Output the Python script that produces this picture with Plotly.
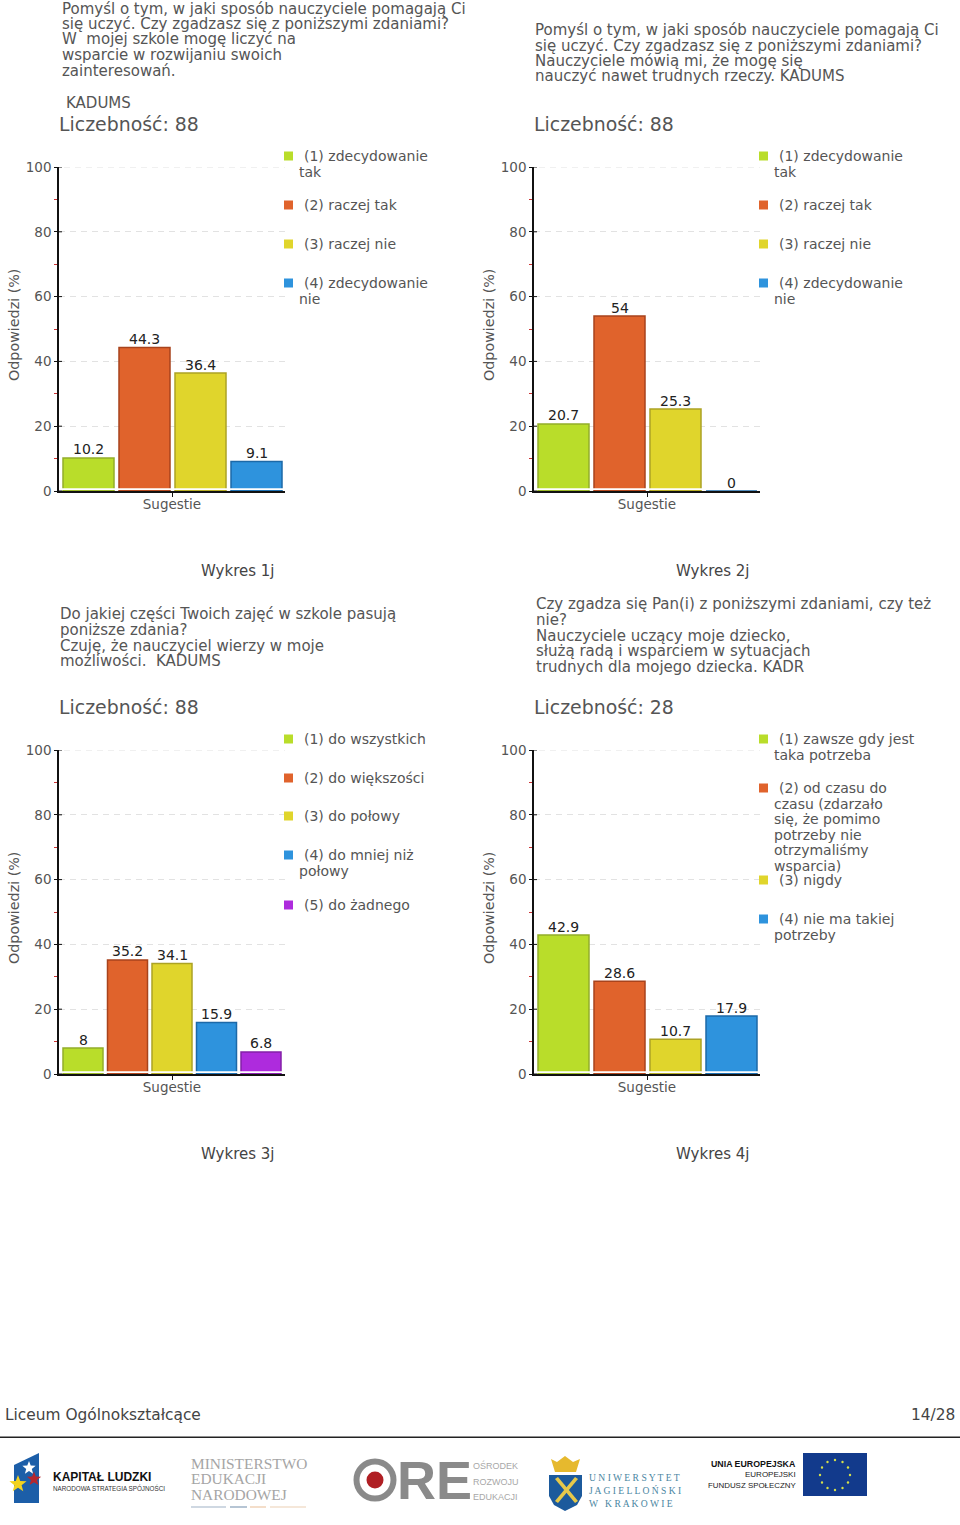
import math
import plotly.graph_objects as go

FONT = "DejaVu Sans"
W, H = 960, 1525
TXT = "#555555"

values_1 = [10.2, 44.3, 36.4, 9.1]
values_2 = [20.7, 54, 25.3, 0]
values_3 = [8, 35.2, 34.1, 15.9, 6.8]
values_4 = [42.9, 28.6, 10.7, 17.9]
labels_1 = ["10.2", "44.3", "36.4", "9.1"]
labels_2 = ["20.7", "54", "25.3", "0"]
labels_3 = ["8", "35.2", "34.1", "15.9", "6.8"]
labels_4 = ["42.9", "28.6", "10.7", "17.9"]
counts = ["Liczebność: 88", "Liczebność: 88", "Liczebność: 88", "Liczebność: 28"]
captions = ["Wykres 1j", "Wykres 2j", "Wykres 3j", "Wykres 4j"]
fills = ["#b9dd2a", "#e0632c", "#e0d52c", "#2e93dd", "#ae2bdd"]
edges = ["#92ad2a", "#a8431c", "#aca224", "#1c69a8", "#8420a8"]
title_1 = ["Pomyśl o tym, w jaki sposób nauczyciele pomagają Ci",
           "się uczyć. Czy zgadzasz się z poniższymi zdaniami?",
           "W  mojej szkole mogę liczyć na",
           "wsparcie w rozwijaniu swoich",
           "zainteresowań."]
title_2 = ["Pomyśl o tym, w jaki sposób nauczyciele pomagają Ci",
           "się uczyć. Czy zgadzasz się z poniższymi zdaniami?",
           "Nauczyciele mówią mi, że mogę się",
           "nauczyć nawet trudnych rzeczy. KADUMS"]
title_3 = ["Do jakiej części Twoich zajęć w szkole pasują",
           "poniższe zdania?",
           "Czuję, że nauczyciel wierzy w moje",
           "możliwości.  KADUMS"]
title_4 = ["Czy zgadza się Pan(i) z poniższymi zdaniami, czy też",
           "nie?",
           "Nauczyciele uczący moje dziecko,",
           "służą radą i wsparciem w sytuacjach",
           "trudnych dla mojego dziecka. KADR"]
legend_1 = [["(1) zdecydowanie", "tak"], ["(2) raczej tak"], ["(3) raczej nie"], ["(4) zdecydowanie", "nie"]]
legend_3 = [["(1) do wszystkich"], ["(2) do większości"], ["(3) do połowy"], ["(4) do mniej niż", "połowy"], ["(5) do żadnego"]]
legend_4 = [["(1) zawsze gdy jest", "taka potrzeba"],
            ["(2) od czasu do", "czasu (zdarzało", "się, że pomimo", "potrzeby nie", "otrzymaliśmy", "wsparcia)"],
            ["(3) nigdy"], ["(4) nie ma takiej", "potrzeby"]]
y_major = [0, 20, 40, 60, 80, 100]
y_minor = [10, 30, 50, 70, 90]

fig = go.Figure()
ann, shp = [], []


def px(x):
    return x / W


def py(y):
    return 1 - y / H


def text(x, y, s, size=14, color=TXT, anchor="left", family=FONT, angle=0):
    ann.append(dict(x=px(x), y=py(y), xref="paper", yref="paper", text=s, showarrow=False,
                    xanchor=anchor, yanchor="middle", textangle=angle, borderpad=0, borderwidth=0,
                    font=dict(family=family, size=size, color=color)))


def rect(x0, y0, x1, y1, color):
    shp.append(dict(type="rect", xref="paper", yref="paper", x0=px(x0), x1=px(x1), y0=py(y0), y1=py(y1),
                    fillcolor=color, line=dict(width=0)))


def poly(points, color):
    d = "M" + " L".join(f"{px(a):.5f},{py(b):.5f}" for a, b in points) + " Z"
    shp.append(dict(type="path", xref="paper", yref="paper", path=d, fillcolor=color, line=dict(width=0)))


def star(cx, cy, r, color):
    pts = []
    for k in range(10):
        a = math.radians(-90 + k * 36)
        rr = r if k % 2 == 0 else r * 0.42
        pts.append((cx + rr * math.cos(a), cy + rr * math.sin(a)))
    poly(pts, color)


def circle(cx, cy, r, color, lw=0, lc=None):
    shp.append(dict(type="circle", xref="paper", yref="paper", x0=px(cx - r), x1=px(cx + r), y0=py(cy + r), y1=py(cy - r),
                    fillcolor=color, line=dict(width=lw, color=lc or color)))


def chart(i, x0, top, vals, labs, title, title_x, title_ys, legend, legend_ys):
    n = len(vals)
    ax = "" if i == 0 else str(i + 1)
    left = x0 + 59
    right = x0 + 285
    bottom = top + 324
    pitch = 56 if n == 4 else 44.5
    c0 = 88.5 if n == 4 else 83
    width = 51 if n == 4 else 40
    rng = [(59 - c0) / pitch, (285 - c0) / pitch]
    fig.add_trace(go.Bar(
        x=list(range(n)), y=vals, cliponaxis=False,
        width=width / pitch, showlegend=False,
        marker=dict(color=fills[:n], line=dict(color=edges[:n], width=1.5)),
        xaxis="x" + ax, yaxis="y" + ax, hoverinfo="skip"))
    fig.update_layout({
        "xaxis" + ax: dict(domain=[px(left), px(right)], range=rng, anchor="y" + ax,
                           tickvals=[(172 - c0) / pitch], ticktext=[""], ticks="outside", ticklen=4,
                           tickcolor="#111111", showgrid=False, zeroline=False, showline=True,
                           linecolor="#111111", linewidth=1.5,
                           title=dict(text="Sugestie", standoff=1, font=dict(family=FONT, size=13.5, color=TXT))),
        "yaxis" + ax: dict(domain=[py(bottom), py(top)], range=[0, 100], anchor="x" + ax,
                           tickvals=y_major, ticks="outside", ticklen=3, tickcolor="#111111",
                           tickfont=dict(family=FONT, size=13.5, color=TXT),
                           showline=True, linecolor="#111111", linewidth=1.5, zeroline=False,
                           gridcolor="#e2e2e2", griddash="6px,5px", gridwidth=1,
                           minor=dict(tickvals=y_minor, ticks="outside", ticklen=3, tickcolor="#cc3333", showgrid=False)),
    })
    # bar value labels, placed from the data through the axes
    for k, (v, s) in enumerate(zip(vals, labs)):
        ann.append(dict(x=k, y=v, xref="x" + ax, yref="y" + ax, text=s, showarrow=False, xanchor="center",
                        yanchor="middle", yshift=8.5, borderpad=0, borderwidth=0,
                        font=dict(family=FONT, size=14, color="#222222")))
    # small gap between bar feet and the axis line
    rect(left + 1, bottom - 2.8, right, bottom - 1, "#ffffff")
    for v in y_major:
        shp.append(dict(type="line", xref="paper", yref="y" + ax, x0=px(left), x1=px(left + 3), y0=v, y1=v,
                        line=dict(color="#111111", width=1)))
    shp.append(dict(type="line", xref="paper", yref="y" + ax, x0=px(left + 5), x1=px(right), y0=100, y1=100,
                    line=dict(color="#e2e2e2", width=1, dash="6px,5px")))
    for s, y in zip(title, title_ys):
        text(title_x, y, s, size=15)
    text(left, top - 43, counts[i], size=18.9)
    text(x0 + 14, top + 158, "Odpowiedzi (%)", size=14.3, angle=-90, anchor="center")
    text(x0 + 238, top + 403.5, captions[i], size=15, anchor="center", color="#444444")
    for j, (lines, ly) in enumerate(zip(legend, legend_ys)):
        rect(x0 + 284, top + ly - 4.5, x0 + 293, top + ly + 4.5, fills[j])
        for k, s in enumerate(lines):
            text(x0 + (304 if k == 0 else 299), top + ly + k * 15.6, s, size=14)


chart(0, 0, 167, values_1, labels_1, title_1, 62, [8.5, 24, 39.5, 55, 70.5], legend_1, [-11, 38, 77, 116])
chart(1, 475, 167, values_2, labels_2, title_2, 535, [30, 45.5, 61, 76.5], legend_1, [-11, 38, 77, 116])
chart(2, 0, 750, values_3, labels_3, title_3, 60, [614, 630, 645.5, 660.5], legend_3, [-11, 28, 66, 105, 155])
chart(3, 475, 750, values_4, labels_4, title_4, 536, [604, 620, 635.5, 651, 666.5], legend_4, [-11, 38, 130, 169])
text(66, 103, "KADUMS", size=15)

# page footer
text(5, 1414.5, "Liceum Ogólnokształcące", size=15.4, color="#444444")
text(955, 1414.5, "14/28", size=15.4, color="#444444", anchor="right")
rect(0, 1436.5, 960, 1438, "#222222")

# Kapitał Ludzki logo
poly([(14, 1465), (39, 1453), (39, 1503), (14, 1503)], "#1c5ea8")
star(29, 1468, 7, "#ffffff")
star(18, 1484, 9, "#f2d21f")
star(34, 1479, 7.5, "#b5272e")
text(53, 1477, "<b>KAPITAŁ LUDZKI</b>", size=12, color="#111111", family="Liberation Sans")
text(53, 1488, "NARODOWA STRATEGIA SPÓJNOŚCI", size=6.3, color="#333333", family="Liberation Sans")
# Ministerstwo logo
for s, y in zip(["MINISTERSTWO", "EDUKACJI", "NARODOWEJ"], [1463, 1478, 1494]):
    text(191, y, s, size=15.4, color="#a5a5a5", family="Liberation Serif")
rect(191, 1506.5, 226, 1507.5, "#9fb2c6")
rect(230, 1506.5, 247, 1507.5, "#6d8aa8")
rect(250, 1506.5, 266, 1507.5, "#e8bd95")
rect(270, 1506.5, 306, 1507.5, "#ecd0b4")
# ORE logo
circle(375, 1480, 18.5, "#ffffff", lw=6, lc="#8a8a8a")
circle(375, 1480, 8.5, "#b01f24")
text(397, 1480, "<b>RE</b>", size=54, color="#8a8a8a", family="Liberation Sans Narrow, Liberation Sans")
for s, y in zip(["OŚRODEK", "ROZWOJU", "EDUKACJI"], [1465, 1482, 1497]):
    text(473, y, s, size=9, color="#a8a8a8", family="Liberation Sans")
# Jagiellonian University logo
poly([(549, 1475), (582, 1475), (582, 1496), (577, 1505), (565, 1511), (554, 1505), (549, 1496)], "#1c5a9c")
poly([(551, 1459), (557, 1462), (565, 1456), (573, 1462), (580, 1459), (576, 1472), (555, 1472)], "#e6b92e")
poly([(555, 1479), (558, 1477), (578, 1501), (575, 1503)], "#e6c84a")
poly([(575, 1477), (578, 1479), (558, 1503), (555, 1501)], "#e6c84a")
for s, y in zip(["U N I W E R S Y T E T", "J A G I E L L O Ń S K I", "W   K R A K O W I E"], [1477.5, 1490.5, 1503.5]):
    text(589, y, s, size=9.6, color="#4a86a2", family="Liberation Serif")
# EU logo
text(796, 1464, "<b>UNIA EUROPEJSKA</b>", size=8.8, color="#111111", family="Liberation Sans", anchor="right")
text(796, 1474.5, "EUROPEJSKI", size=8, color="#222222", family="Liberation Sans", anchor="right")
text(796, 1485, "FUNDUSZ SPOŁECZNY", size=7.9, color="#222222", family="Liberation Sans", anchor="right")
rect(803, 1453, 867, 1496, "#123a8c")
for k in range(12):
    a = math.radians(k * 30)
    circle(835 + 15 * math.cos(a), 1475 + 15 * math.sin(a), 1.2, "#d6e04a")

fig.update_layout(width=W, height=H, margin=dict(l=0, r=0, t=0, b=0, autoexpand=False), autosize=False,
                  paper_bgcolor="#ffffff", plot_bgcolor="#ffffff", annotations=ann, shapes=shp,
                  font=dict(family=FONT, color=TXT))
fig.write_html("out.html", config=dict(displayModeBar=False),
               post_script="document.body.style.margin='0';var g=document.getElementById('{plot_id}');g.style.position='absolute';g.style.left='0';g.style.top='0';")
